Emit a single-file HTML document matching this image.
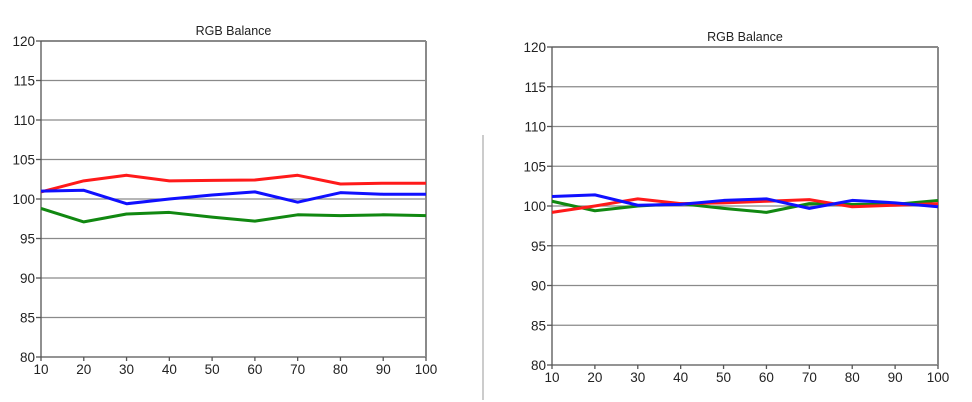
<!DOCTYPE html>
<html><head><meta charset="utf-8"><style>
html,body{margin:0;padding:0;background:#fff;width:972px;height:402px;overflow:hidden}
svg{display:block;font-family:"Liberation Sans",sans-serif}
</style></head><body>
<svg id="c" width="972" height="402">
<line x1="483" y1="135" x2="483" y2="400" stroke="#999" stroke-width="1"/>
</svg>
<script>
const categories=[10,20,30,40,50,60,70,80,90,100];
const yTicks=[80,85,90,95,100,105,110,115,120];
const leftRed=[100.9,102.3,103.0,102.3,102.35,102.4,103.0,101.9,102.0,102.0];
const leftGreen=[98.8,97.1,98.1,98.3,97.7,97.2,98.0,97.9,98.0,97.9];
const leftBlue=[101.0,101.1,99.4,100.0,100.5,100.9,99.6,100.8,100.6,100.6];
const rightRed=[99.2,100.0,100.9,100.3,100.4,100.6,100.8,99.9,100.1,100.3];
const rightGreen=[100.6,99.4,100.0,100.3,99.7,99.2,100.3,100.2,100.2,100.7];
const rightBlue=[101.2,101.4,100.1,100.2,100.7,100.9,99.7,100.7,100.4,99.9];
const NS='http://www.w3.org/2000/svg';
const svg=document.getElementById('c');
function mk(tag,attrs,parent){const e=document.createElementNS(NS,tag);for(const k in attrs)e.setAttribute(k,attrs[k]);(parent||svg).appendChild(e);return e;}
function chart(id,x0,x1,yTop,yBot,titleY,series){
  const g=mk('g',{});
  
  
  const xs=v=>x0+(v-10)/90*(x1-x0);
  const ys=v=>yBot-(v-80)/40*(yBot-yTop);
  const t=mk('text',{x:(x0+x1)/2,y:titleY,'text-anchor':'middle','font-size':'12.5',fill:'#222'},g);
  t.textContent='RGB Balance';
  
  
  yTicks.forEach(v=>{
    const y=ys(v);
    const l=mk('line',{x1:x0,x2:x1,y1:y,y2:y,stroke:v===80?'#555':'#8a8a8a','stroke-width':v===120?2:1.3},g);
    
    
    mk('line',{x1:x0-5,x2:x0,y1:y,y2:y,stroke:'#555','stroke-width':1.3},g);
    const tx=mk('text',{x:x0-6,y:y+5,'text-anchor':'end','font-size':'13.5',fill:'#222'},g);
    tx.textContent=v;
    
    
  });
  mk('line',{x1:x0,x2:x0,y1:yTop,y2:yBot,stroke:'#555','stroke-width':1.3},g);
  mk('line',{x1:x1,x2:x1,y1:yTop,y2:yBot,stroke:'#8a8a8a','stroke-width':2},g);
  categories.forEach(c=>{
    const x=xs(c);
    mk('line',{x1:x,x2:x,y1:yBot,y2:yBot+4,stroke:'#555','stroke-width':1.3},g);
    const tx=mk('text',{x:x,y:yBot+17,'text-anchor':'middle','font-size':'13.5',fill:'#222'},g);
    tx.textContent=c;
    
    
  });
  series.forEach(([name,data,color])=>{
    const p=mk('polyline',{points:data.map((v,i)=>xs(categories[i])+','+ys(v)).join(' '),fill:'none',stroke:color,'stroke-width':3,'stroke-linejoin':'round'},g);
    
    
  });
}
chart('left-chart',41,426,41,357,35,[['red-line',leftRed,'#ff1a1a'],['green-line',leftGreen,'#118811'],['blue-line',leftBlue,'#1010ff']]);
chart('right-chart',552,938,47,365,41,[['green-line',rightGreen,'#118811'],['red-line',rightRed,'#ff1a1a'],['blue-line',rightBlue,'#1010ff']]);
</script>
</body></html>
